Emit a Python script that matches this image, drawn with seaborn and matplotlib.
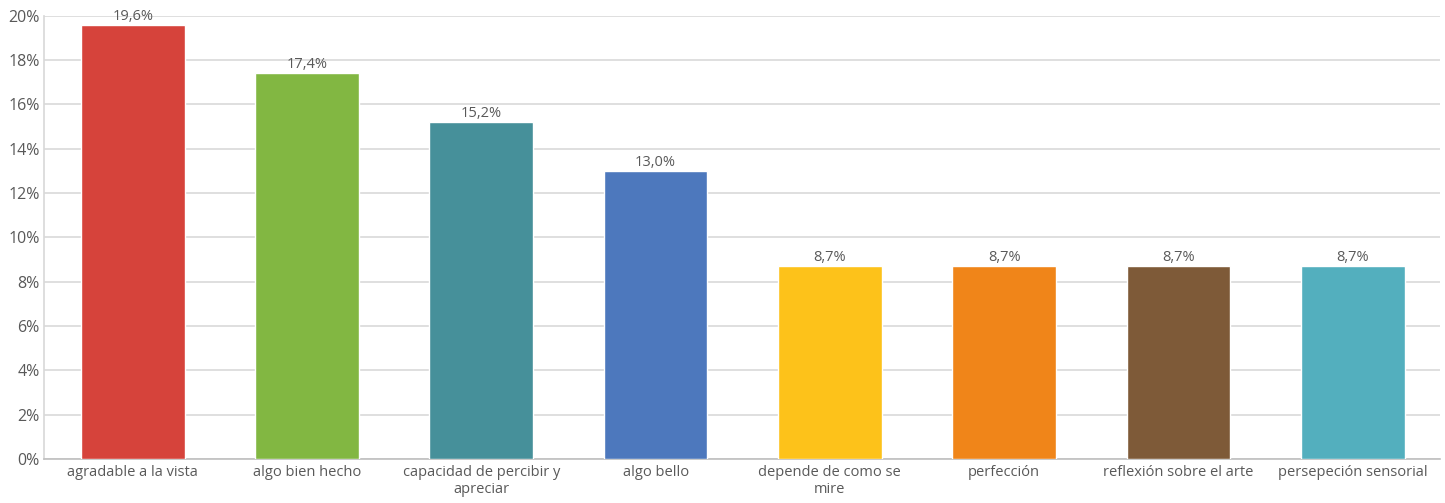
import matplotlib
matplotlib.use("Agg")
import matplotlib.pyplot as plt
import seaborn as sns
import pandas as pd

categories = [
    "agradable a la vista",
    "algo bien hecho",
    "capacidad de percibir y\napreciar",
    "algo bello",
    "depende de como se\nmire",
    "perfección",
    "reflexión sobre el arte",
    "persepeción sensorial",
]
values = [19.6, 17.4, 15.2, 13.0, 8.7, 8.7, 8.7, 8.7]
colors = ["#D6433B", "#82B742", "#46909A", "#4D78BD",
          "#FDC21A", "#F08519", "#7E5A38", "#53AFBE"]
yticks = [0, 2, 4, 6, 8, 10, 12, 14, 16, 18, 20]

sns.set_theme(style="white")
plt.rcParams["font.family"] = ["Open Sans", "DejaVu Sans"]
text_color = "#595959"

df = pd.DataFrame({"categoria": categories, "valor": values})

fig = plt.figure(figsize=(14.45, 5.03), dpi=100)
ax = fig.add_axes([0.0304, 0.0875, 0.966, 0.881])

sns.barplot(data=df, x="categoria", y="valor", hue="categoria",
            palette=colors, legend=False, width=0.595, ax=ax,
            saturation=1, zorder=3)

ax.set_xlim(-0.51, len(categories) - 0.5)
ax.set_ylim(0, 20)
ax.set_yticks(yticks)
ax.set_yticklabels([f"{t}%" for t in yticks])
ax.set_xlabel("")
ax.set_ylabel("")
ax.grid(axis="y", color="#D9D9D9", linewidth=1.2, zorder=0)
ax.set_axisbelow(True)

for side in ["top", "right"]:
    ax.spines[side].set_visible(False)
ax.spines["left"].set_color("#D9D9D9")
ax.spines["bottom"].set_color("#BFBFBF")
ax.spines["bottom"].set_linewidth(1.2)

ax.tick_params(axis="x", length=0, labelsize=10.5, colors=text_color, pad=4)
ax.tick_params(axis="y", length=0, labelsize=11.5, colors=text_color, pad=3)

for i, v in enumerate(values):
    ax.text(i, v + 0.05, f"{v:.1f}%".replace(".", ","), ha="center", va="bottom",
            fontsize=10.5, color=text_color)

fig.savefig("out.png", dpi=100)
